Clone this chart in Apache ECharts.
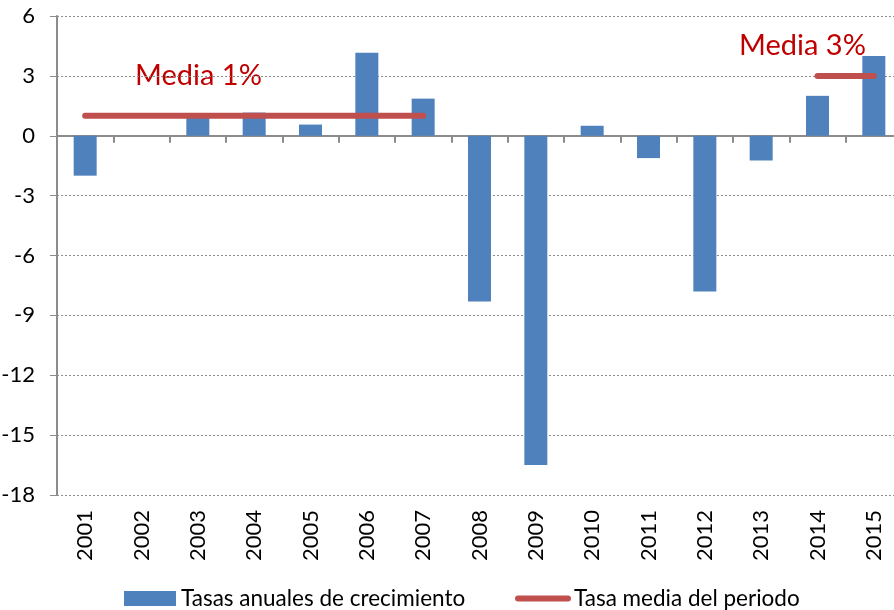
<!DOCTYPE html>
<html>
<head>
<meta charset="utf-8">
<script src="https://cdn.jsdelivr.net/npm/echarts@6/dist/echarts.min.js"></script>
<style>
  html, body { margin: 0; padding: 0; background: #fff; }
  #chart { width: 894px; height: 610px; }
</style>
</head>
<body>
<div id="chart"></div>
<script>
// datos
var years = ['2001', '2002', '2003', '2004', '2005', '2006', '2007', '2008',
             '2009', '2010', '2011', '2012', '2013', '2014', '2015'];
var tasas = [-2.0, 0, 1.1, 1.16, 0.56, 4.16, 1.86, -8.3, -16.5, 0.5, -1.12, -7.8, -1.24, 2.0, 4.0];
var media1 = [1, 1, 1, 1, 1, 1, 1, null, null, null, null, null, null, null, null];
var media2 = [null, null, null, null, null, null, null, null, null, null, null, null, null, 3, 3];
var yTicks = { min: -18, max: 6, interval: 3 };

var font = 'Lato';
var chart = echarts.init(document.getElementById('chart'));

var option = {
  animation: false,
  textStyle: { fontFamily: font },
  grid: {
    left: 57,
    top: 16,
    width: 845,
    height: 479,
    containLabel: false,
    outerBoundsMode: 'none'
  },
  legend: [
    {
      data: [{ name: 'Tasas anuales de crecimiento', icon: 'rect' }],
      left: 124,
      top: 587,
      padding: 0,
      itemWidth: 52,
      itemHeight: 15,
      itemGap: 5,
      textStyle: { fontSize: 22.5, color: '#000', fontFamily: font, padding: [0, 0, 0, 0] }
    },
    {
      data: [{
        name: 'Tasa media del periodo',
        icon: 'path://M3,0 L53,0 A3,3 0 0 1 53,6 L3,6 A3,3 0 0 1 3,0 Z'
      }],
      left: 515,
      top: 587,
      padding: 0,
      itemWidth: 56,
      itemHeight: 6,
      textStyle: { fontSize: 22.5, color: '#000', fontFamily: font, padding: [0, 0, 0, -2] }
    }
  ],
  xAxis: [
    {
      type: 'category',
      data: years,
      position: 'bottom',
      axisLine: { onZero: true, lineStyle: { color: '#8c8c8c', width: 2 } },
      axisTick: { show: true, length: 7, lineStyle: { color: '#8c8c8c', width: 2 } },
      axisLabel: { show: false },
      splitLine: { show: false }
    },
    {
      type: 'category',
      data: years,
      position: 'bottom',
      axisLine: { show: false, onZero: false },
      axisTick: { show: false },
      axisLabel: { rotate: 90, margin: 15, fontSize: 22, color: '#000', fontFamily: font, interval: 0 },
      splitLine: { show: false }
    }
  ],
  yAxis: {
    type: 'value',
    min: yTicks.min,
    max: yTicks.max,
    interval: yTicks.interval,
    axisLine: { show: true, lineStyle: { color: '#8c8c8c', width: 2 } },
    axisTick: { show: true, length: 7, lineStyle: { color: '#8c8c8c' } },
    axisLabel: { fontSize: 22, color: '#000', margin: 22, fontFamily: font },
    splitLine: { show: true, lineStyle: { type: [2, 2], color: '#8c8c8c', width: 1 } }
  },
  series: [
    {
      name: 'Tasas anuales de crecimiento',
      type: 'bar',
      xAxisIndex: 0,
      data: tasas,
      barWidth: 23,
      itemStyle: { color: '#4f81bd' },
      z: 2
    },
    {
      name: 'Tasa media del periodo',
      type: 'line',
      xAxisIndex: 0,
      data: media1,
      symbol: 'none',
      connectNulls: false,
      lineStyle: { color: '#c0504d', width: 6, cap: 'round' },
      itemStyle: { color: '#c0504d' },
      z: 3
    },
    {
      name: 'Tasa media del periodo',
      type: 'line',
      xAxisIndex: 0,
      data: media2,
      symbol: 'none',
      lineStyle: { color: '#c0504d', width: 6, cap: 'round' },
      itemStyle: { color: '#c0504d' },
      z: 3
    }
  ],
  graphic: [
    {
      type: 'text', left: 135, top: 61,
      style: { text: 'Media 1%', fill: '#c00000', font: '29px Lato' }
    },
    {
      type: 'text', left: 739, top: 31,
      style: { text: 'Media 3%', fill: '#c00000', font: '29px Lato' }
    }
  ]
};

chart.setOption(option);
</script>
</body>
</html>
